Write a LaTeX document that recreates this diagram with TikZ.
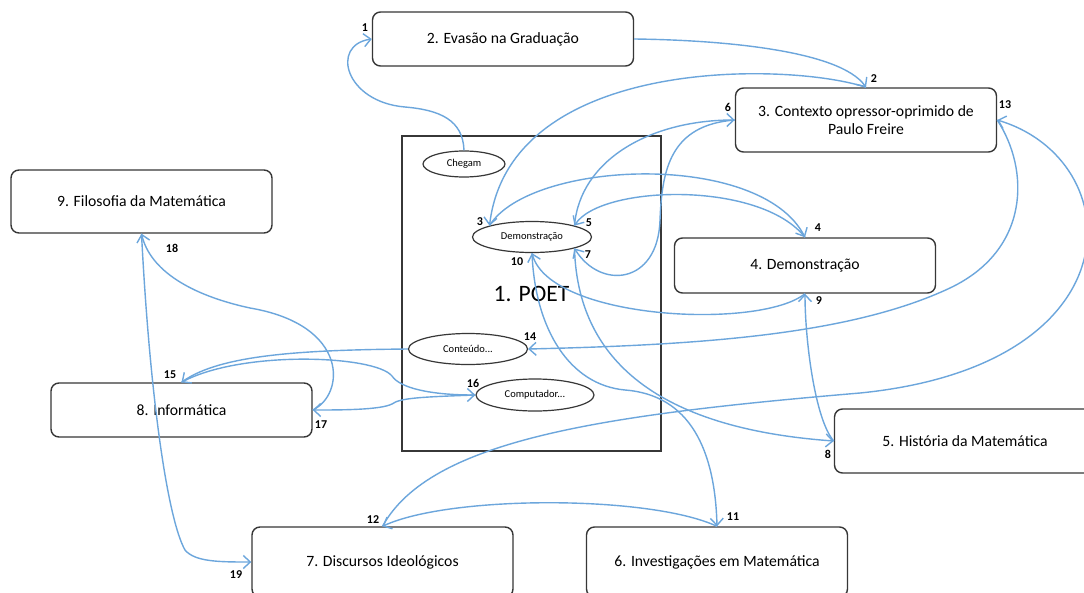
\documentclass[tikz,border=0pt]{standalone}
\usepackage{fontspec}
\setmainfont{Carlito}
\usetikzlibrary{shapes.geometric,arrows.meta}
\definecolor{boxgray}{RGB}{55,55,55}
\definecolor{lineblue}{RGB}{108,166,220}
\begin{document}
\begin{tikzpicture}[x=1pt,y=-1pt,
  box/.style={draw=boxgray, line width=1.4pt, rounded corners=8pt, fill=white,
    minimum width=261pt, font=\fontsize{15.7}{18}\selectfont, align=center, inner sep=2pt},
  ell/.style={ellipse, draw=boxgray, line width=1.2pt, fill=white, inner sep=0pt,
    font=\fontsize{10.5}{12}\selectfont},
  lab/.style={font=\bfseries\fontsize{12}{14}\selectfont, inner sep=0pt},
  conn/.style={draw=lineblue, line width=1.4pt, -{Straight Barb[length=7pt,width=13pt]}}]
\useasboundingbox (0,0) rectangle (1084,592);
\fill[white] (0,0) rectangle (1084,592);
\clip (0,0) rectangle (1084,592);

% boxes
\node[box, minimum height=54pt] (b2) at (503,39) {2. Evasão na Graduação};
\node[box, minimum height=64pt] (b3) at (866,120) {3. Contexto opressor-oprimido de\\Paulo Freire};
\node[box, minimum height=63pt] (b9) at (141.5,201.5) {9. Filosofia da Matemática};
\node[box, minimum height=55pt] (b4) at (805,265.5) {4. Demonstração};
\node[box, minimum height=64pt] (b5) at (965,441) {5. História da Matemática};
\node[box, minimum height=54pt] (b8) at (181.5,410) {8. Informática};
\node[box, minimum height=70pt] (b7) at (382.5,562) {7. Discursos Ideológicos};
\node[box, minimum height=70pt] (b6) at (717,562) {6. Investigações em Matemática};

% POET frame
\node[draw=boxgray, line width=1.4pt, fill=white, minimum width=259pt, minimum height=315pt,
  font=\fontsize{23.5}{26}\selectfont] (poet) at (531.5,293.5) {1. POET};

% ellipses
\node[ell, minimum width=82pt, minimum height=26pt] (chegam) at (464,164) {Chegam};
\node[ell, minimum width=119pt, minimum height=31pt] (demo) at (532,237) {Demonstração};
\node[ell, minimum width=119pt, minimum height=31pt] (cont) at (468,349) {Conteúdo...};
\node[ell, minimum width=118pt, minimum height=32pt] (comp) at (535,395) {Computador...};

% connectors
\draw[conn] (chegam.north) .. controls (463,120) and (440,110) .. (405,107)
  .. controls (345,102) and (330,45) .. (b2.west);
\draw[conn] (b2.east) .. controls (720,40) and (840,50) .. (b3.north);
\draw[conn] (b3.north) .. controls (790,62) and (510,55) .. (demo.165);
\draw[conn] (demo.165) .. controls (530,160) and (760,150) .. (b4.north);
\draw[conn] (b4.north) .. controls (760,180) and (600,185) .. (demo.15);
\draw[conn] (demo.15) .. controls (580,160) and (650,120) .. (b3.west);
\draw[conn] (b3.west) .. controls (670,125) and (662,170) .. (660,220)
  .. controls (658,285) and (600,290) .. (demo.345);
\draw[conn] (demo.345) .. controls (578,375) and (680,430) .. (b5.west);
\draw[conn] (b5.west) .. controls (815,420) and (805,340) .. (b4.south);
\draw[conn] (b4.south) .. controls (760,330) and (550,320) .. (demo.south);
\draw[conn] (demo.south) .. controls (535,330) and (570,385) .. (625,390)
  .. controls (690,395) and (715,450) .. (b6.north);
\draw[conn] (b6.north) .. controls (650,495) and (450,495) .. (b7.north);
\draw[conn] (b7.north) .. controls (430,440) and (600,415) .. (860,393)
  .. controls (1140,365) and (1130,160) .. (b3.east);
\draw[conn] (b3.east) .. controls (1030,170) and (1030,250) .. (950,288)
  .. controls (850,335) and (700,345) .. (cont.east);
\draw[conn] (cont.west) .. controls (300,350) and (220,355) .. (b8.north);
\draw[conn] (b8.north) .. controls (240,350) and (375,355) .. (392,376)
  .. controls (400,388) and (430,395) .. (comp.west);
\draw[conn] (comp.west) .. controls (420,397) and (400,398) .. (392,404)
  .. controls (380,410) and (340,410) .. (b8.east);
\draw[conn] (b8.east) .. controls (345,395) and (350,325) .. (250,308)
  .. controls (190,295) and (150,270) .. (b9.south);
\draw[conn] (b9.south) .. controls (150,400) and (168,520) .. (185,550)
  .. controls (195,562) and (220,562) .. (b7.west);

% labels
\node[lab] (l1) at (365,28) {1};
\node[lab] (l2) at (874,79) {2};
\node[lab] (l3) at (480,222) {3};
\node[lab] (l4) at (818,228) {4};
\node[lab] (l5) at (589,223) {5};
\node[lab] (l6) at (728,107) {6};
\node[lab] (l7) at (588,255) {7};
\node[lab] (l8) at (828,454) {8};
\node[lab] (l9) at (819,301) {9};
\node[lab] (l10) at (517,262) {10};
\node[lab] (l11) at (733,517) {11};
\node[lab] (l12) at (373,520) {12};
\node[lab] (l13) at (1005,105) {13};
\node[lab] (l14) at (530,337) {14};
\node[lab] (l15) at (170,375) {15};
\node[lab] (l16) at (473,383) {16};
\node[lab] (l17) at (321,425) {17};
\node[lab] (l18) at (172,248) {18};
\node[lab] (l19) at (236,575) {19};
\end{tikzpicture}
\end{document}
